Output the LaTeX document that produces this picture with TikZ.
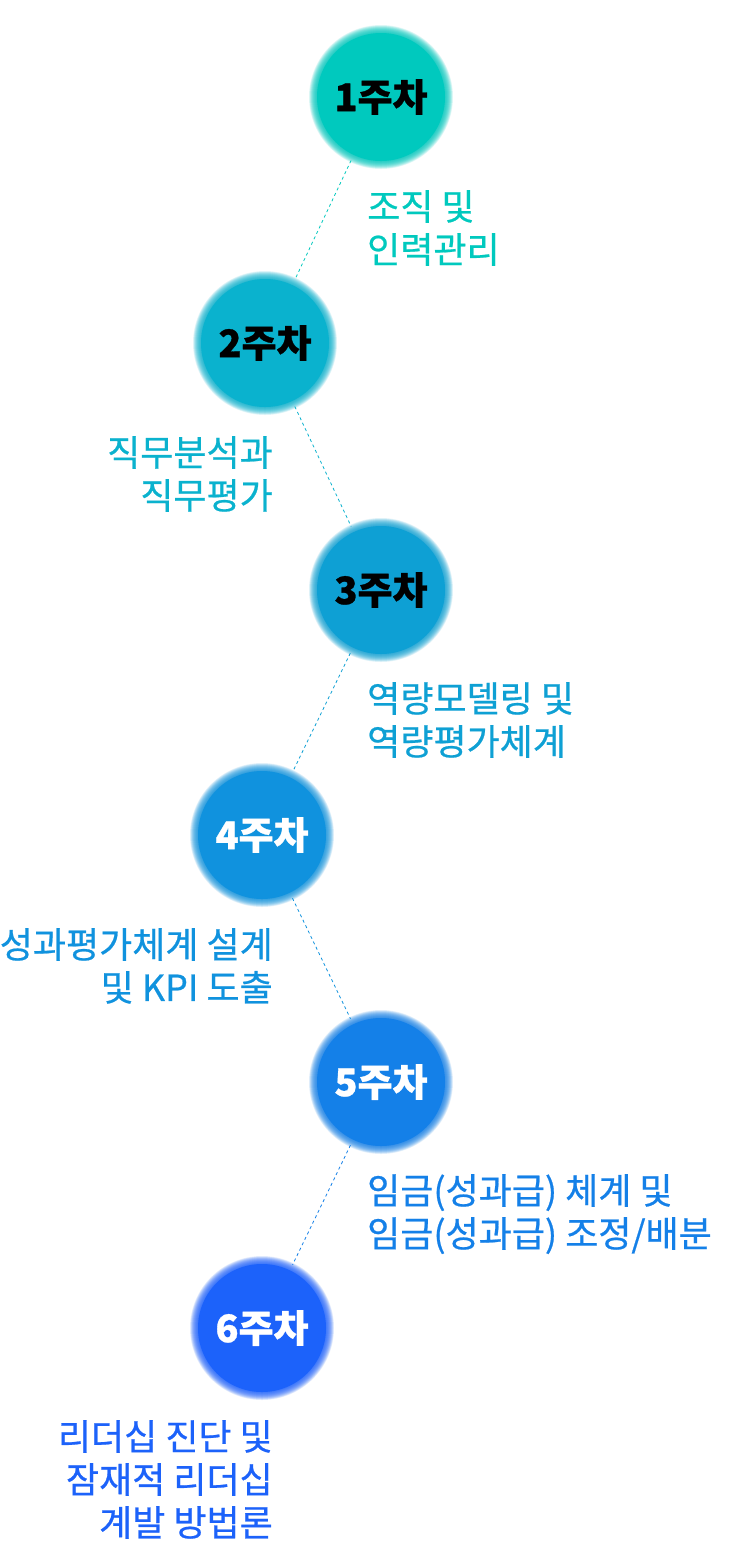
\documentclass[tikz,border=0pt]{standalone}
\usepackage{fontspec}
\setmainfont{Noto Sans CJK KR}
\newfontfamily\krmed[FakeBold=0.6]{Noto Sans CJK KR}
\newfontfamily\krbold[BoldFeatures={FakeBold=0.8}]{Noto Sans CJK KR}
\begin{document}
\begin{tikzpicture}[x=1pt,y=-1pt]
\definecolor{w1}{RGB}{0,201,190}
\definecolor{w2}{RGB}{10,178,206}
\definecolor{w3}{RGB}{14,160,212}
\definecolor{w4}{RGB}{16,146,222}
\definecolor{w5}{RGB}{20,128,232}
\definecolor{w6}{RGB}{28,98,250}
\tikzset{
  week/.style={circle, minimum size=140pt, inner sep=0pt, font=\fontsize{38}{42}\selectfont\krbold\bfseries},
  labl/.style={inner sep=0pt, anchor=north west, align=left, font=\fontsize{36}{43}\selectfont\krmed},
  labr/.style={inner sep=0pt, anchor=north east, align=right, font=\fontsize{36}{43}\selectfont\krmed},
  conn/.style={dash pattern=on 3pt off 3pt, line width=0.8pt}
}
\useasboundingbox (0,0) rectangle (730,1551);
\fill[white] (0,0) rectangle (730,1551);
\newcommand\blob[2]{%
  \foreach \r in {72,71.5,...,62} {\fill[#2, opacity=0.1] #1 circle (\r);}
  \fill[#2] #1 circle (64);}
\blob{(381,97)}{w1}
\blob{(265,343)}{w2}
\blob{(381,590)}{w3}
\blob{(262,835)}{w4}
\blob{(381,1082)}{w5}
\blob{(262,1328)}{w6}
\node[week, text=black] (n1) at (381,97) {1주차};
\node[week, text=black] (n2) at (265,343) {2주차};
\node[week, text=black] (n3) at (381,590) {3주차};
\node[week, text=white] (n4) at (262,835) {4주차};
\node[week, text=white] (n5) at (381,1082) {5주차};
\node[week, text=white] (n6) at (262,1328) {6주차};
\draw[conn, w1] (n1) -- (n2);
\draw[conn, w2] (n2) -- (n3);
\draw[conn, w3] (n3) -- (n4);
\draw[conn, w4] (n4) -- (n5);
\draw[conn, w5] (n5) -- (n6);
\node[labl, text=w1] (t1) at (367,190) {조직 및\\인력관리};
\node[labr, text=w2] (t2) at (273,436) {직무분석과\\직무평가};
\node[labl, text=w3] (t3) at (367,682) {역량모델링 및\\역량평가체계};
\node[labr, text=w4] (t4) at (273,928) {성과평가체계 설계\\및 KPI 도출};
\node[labl, text=w5] (t5) at (367,1174) {임금(성과급) 체계 및\\임금(성과급) 조정/배분};
\node[labr, text=w6] (t6) at (273,1420) {리더십 진단 및\\잠재적 리더십\\계발 방법론};
\end{tikzpicture}
\end{document}
